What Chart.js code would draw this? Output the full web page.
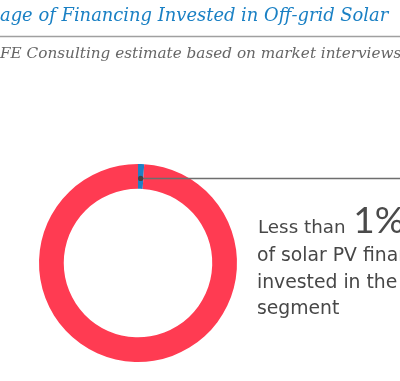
<!DOCTYPE html>
<html><head><meta charset="utf-8">
<script src="https://cdn.jsdelivr.net/npm/chart.js@4.4.1/dist/chart.umd.min.js"></script>
<style>
html,body{margin:0;padding:0;background:#fff;overflow:hidden}
#wrap{position:relative;width:400px;height:381px}
#c{position:absolute;left:0;top:0}
#ov{position:absolute;left:0;top:0}
</style></head><body>
<div id="wrap">
<canvas id="c" width="400" height="381"></canvas>
<svg id="ov" width="400" height="381" xmlns="http://www.w3.org/2000/svg"></svg>
</div>
<script>
// ---- data ----
const categories = ["Off-grid solar", "Other solar PV"];
const shares = [1, 99];
const colors = ["#1f80c4", "#ff3b52"];
const titleText = "age of Financing Invested in Off-grid Solar";
const subtitleText = "FE Consulting estimate based on market interviews";
const calloutLead = "Less than ";
const calloutValue = "1%";
const calloutLines = ["of solar PV financing", "invested in the off-grid", "segment"];

// ---- overlay text ----
const NS = "http://www.w3.org/2000/svg";
const svg = document.getElementById("ov");
function addText(x, y, str, attrs) {
  const t = document.createElementNS(NS, "text");
  t.setAttribute("x", x); t.setAttribute("y", y);
  for (const k in attrs) t.setAttribute(k, attrs[k]);
  t.textContent = str;
  svg.appendChild(t);
  return t;
}
addText(0, 21, titleText, {"font-family": "DejaVu Serif", "font-style": "italic", "font-size": 17.9, fill: "#1a80c4"});
const rule = document.createElementNS(NS, "line");
rule.setAttribute("x1", 0); rule.setAttribute("x2", 400);
rule.setAttribute("y1", 36.5); rule.setAttribute("y2", 36.5);
rule.setAttribute("stroke", "#a0a0a0"); rule.setAttribute("stroke-width", 1.5);
svg.appendChild(rule);
addText(0, 57.5, subtitleText, {"font-family": "DejaVu Serif", "font-style": "italic", "font-size": 15.25, fill: "#666"});
const lead = addText(258, 233, calloutLead, {"font-family": "DejaVu Sans", "font-size": 18.3, fill: "#474747"});
const ts = document.createElementNS(NS, "tspan");
ts.setAttribute("font-size", 37); ts.setAttribute("font-weight", 400);
ts.setAttribute("font-family", "Lato"); ts.setAttribute("dx", 2);
ts.setAttribute("fill", "#4a4a4a");
ts.textContent = calloutValue; lead.appendChild(ts);
const lineY = [261, 287.5, 314];
calloutLines.forEach((s, i) => addText(257, lineY[i], s, {"font-family": "DejaVu Sans", "font-size": 18.8, fill: "#474747"}));

// ---- chart ----
const leader = {
  id: "leader",
  afterDatasetsDraw(chart) {
    const arc = chart.getDatasetMeta(0).data[0];
    const p = arc.getProps(["x", "y", "startAngle", "endAngle", "innerRadius", "outerRadius"], true);
    const a = (p.startAngle + p.endAngle) / 2;
    const r = p.innerRadius + (p.outerRadius - p.innerRadius) * 0.42;
    const px = p.x + Math.cos(a) * r, py = p.y + Math.sin(a) * r;
    const ctx = chart.ctx;
    ctx.save();
    ctx.strokeStyle = "#6e6e6e"; ctx.lineWidth = 1.5;
    ctx.beginPath(); ctx.moveTo(px, py); ctx.lineTo(chart.width, py); ctx.stroke();
    ctx.fillStyle = "#444";
    ctx.beginPath(); ctx.arc(px, py, 2.6, 0, Math.PI * 2); ctx.fill();
    ctx.restore();
  }
};
new Chart(document.getElementById("c"), {
  type: "doughnut",
  data: { labels: categories, datasets: [{ data: shares, backgroundColor: colors, borderWidth: 0 }] },
  options: {
    responsive: false, animation: false, devicePixelRatio: 1,
    cutout: "75%",
    rotation: 0,
    layout: { padding: { left: 39, right: 163, top: 164, bottom: 19 } },
    plugins: { legend: { display: false }, tooltip: { enabled: false } }
  },
  plugins: [leader]
});
</script>
</body></html>
